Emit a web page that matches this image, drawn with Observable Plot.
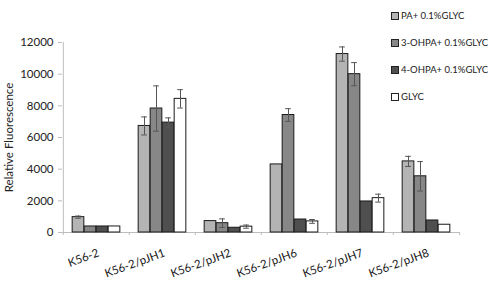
<!DOCTYPE html>
<html>
<head>
<meta charset="utf-8">
<script src="https://cdn.jsdelivr.net/npm/d3@7"></script>
<script src="https://cdn.jsdelivr.net/npm/@observablehq/plot@0.6"></script>
<style>
  body { margin: 0; background: #fff; font-family: Lato, "Open Sans", sans-serif; }
  #wrap { position: relative; width: 490px; height: 285px; }
  #legend { position: absolute; left: 391px; top: 3px; font-size: 9.5px; color: #222; white-space: nowrap; }
  .row { display: flex; align-items: center; height: 26.8px; line-height: 14px; }
  .sw { width: 6px; height: 6px; border: 1px solid #222; margin-right: 2px; flex: none; }
</style>
</head>
<body>
<div id="wrap"><div id="legend"></div></div>
<script>
const categories = ["K56-2", "K56-2/pJH1", "K56-2/pJH2", "K56-2/pJH6", "K56-2/pJH7", "K56-2/pJH8"];
const series = ["PA+ 0.1%GLYC", "3-OHPA+ 0.1%GLYC", "4-OHPA+ 0.1%GLYC", "GLYC"];
const colors = ["#b4b4b4", "#878787", "#4f4f4f", "#ffffff"];
// values per series, in category order
const paValues    = [970, 6730, 720, 4300, 11270, 4490];
const ohpa3Values = [380, 7830, 590, 7420, 10000, 3550];
const ohpa4Values = [380, 6940, 300, 820, 1960, 760];
const glycValues  = [380, 8440, 370, 700, 2170, 490];
// error (± half-range) per series
const paErrors    = [70, 570, 0, 0, 450, 320];
const ohpa3Errors = [0, 1430, 270, 400, 730, 930];
const ohpa4Errors = [0, 300, 0, 0, 0, 0];
const glycErrors  = [0, 580, 100, 120, 250, 0];
const yTicks = [0, 2000, 4000, 6000, 8000, 10000, 12000];

const valueSets = [paValues, ohpa3Values, ohpa4Values, glycValues];
const errorSets = [paErrors, ohpa3Errors, ohpa4Errors, glycErrors];

const W = 490, H = 285, mL = 62, mR = 30, mT = 42, mB = 53;
const step = (W - mL - mR) / categories.length;
const barW = 12;
const inset = (step - barW) / 2;

const marks = [];
// y axis line
marks.push(Plot.ruleX([categories[0]], {x: d => d, dx: -step / 2, y1: 0, y2: 12000, stroke: "#bdbdbd"}));
// x axis line
marks.push(Plot.ruleY([0], {stroke: "#bdbdbd"}));
// boundary ticks on x axis
marks.push(Plot.axisX(categories, {tickSize: 3, dx: -step / 2, text: null, stroke: "#bdbdbd", label: null}));
marks.push(Plot.axisX([categories[categories.length - 1]], {tickSize: 3, dx: step / 2, text: null, stroke: "#bdbdbd", label: null}));
// x labels
marks.push(Plot.axisX({tickSize: 0, tickPadding: 20, tickRotate: -20, dx: 2, fontSize: 11.5, fill: "#222", label: null}));
// y axis
marks.push(Plot.axisY({ticks: yTicks, tickSize: 4, tickPadding: 5, fontSize: 11.5, fill: "#222", stroke: "#bdbdbd", tickFormat: d => String(d), label: null}));

series.forEach((s, j) => {
  const rows = categories.map((c, i) => ({cat: c, v: valueSets[j][i], e: errorSets[j][i]}));
  const dx = (j - 1.5) * barW;
  marks.push(Plot.barY(rows, {x: "cat", y: "v", dx, insetLeft: inset, insetRight: inset, fill: colors[j], stroke: "#1a1a1a", strokeWidth: 1}));
  const err = rows.filter(r => r.e > 0);
  marks.push(Plot.ruleX(err, {x: "cat", y1: r => r.v - r.e, y2: r => r.v + r.e, dx, stroke: "#555", strokeWidth: 1}));
  marks.push(Plot.tickY(err, {x: "cat", y: r => r.v - r.e, dx, insetLeft: step / 2 - 3, insetRight: step / 2 - 3, stroke: "#555", strokeWidth: 1}));
  marks.push(Plot.tickY(err, {x: "cat", y: r => r.v + r.e, dx, insetLeft: step / 2 - 3, insetRight: step / 2 - 3, stroke: "#555", strokeWidth: 1}));
});

// y label
marks.push(Plot.text(["Relative Fluorescence"], {frameAnchor: "left", textAnchor: "middle", dx: -53, rotate: -90, fontSize: 11.5, fill: "#222", text: d => d}));

const chart = Plot.plot({
  width: W, height: H,
  marginLeft: mL, marginRight: mR, marginTop: mT, marginBottom: mB,
  style: {fontFamily: "Lato, 'Open Sans', sans-serif", background: "#fff", overflow: "visible"},
  x: {domain: categories, padding: 0, axis: null},
  y: {domain: [0, 12000], axis: null},
  marks
});
document.getElementById("wrap").prepend(chart);

const legend = document.getElementById("legend");
series.forEach((s, j) => {
  const row = document.createElement("div");
  row.className = "row";
  const sw = document.createElement("div");
  sw.className = "sw";
  sw.style.background = colors[j];
  const t = document.createElement("span");
  t.textContent = s;
  row.append(sw, t);
  legend.append(row);
});
</script>
</body>
</html>
